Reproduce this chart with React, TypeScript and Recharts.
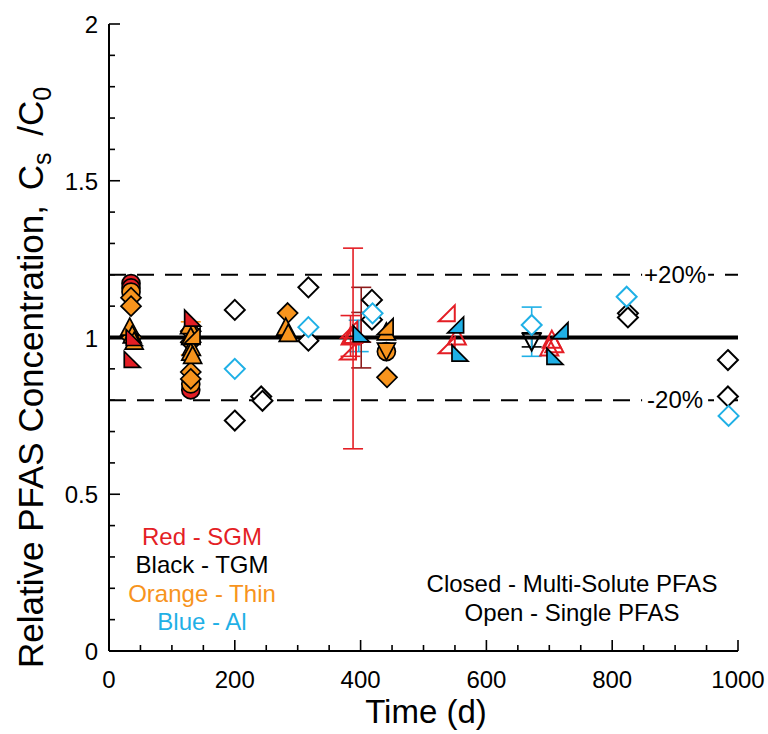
import React from 'react';
import { ErrorBar, ReferenceDot, ReferenceLine, Scatter, ScatterChart, XAxis, YAxis } from 'recharts';

// colours of the four materials
const RED = '#e41e25';
const BLACK = '#000000';
const ORANGE = '#f7941d';
const BLUE = '#1fb0e6';
const DARK_RED = '#8e1b1b';

const FONT = '"Liberation Sans", Arial, sans-serif';

// [time (d), Cs/C0] or [time, Cs/C0, minus, plus]
type Pt = number[];

// filled = multi-solute PFAS
const sgmMultiCircle: Pt[] = [[35, 1.172], [35, 1.158], [130, 0.833]];
const thinMultiCircle: Pt[] = [[35, 1.145], [130, 0.852], [441, 0.955]];
const thinMultiDiamond: Pt[] = [
  [35, 1.127], [35, 1.1], [36, 1.0], [130, 0.89], [130, 0.868], [130, 1.02], [130, 0.985], [284, 1.078], [442, 0.873],
];
const thinMultiTriUp: Pt[] = [
  [33, 1.03], [37, 1.005], [40, 0.985], [128, 1.035], [130, 1.0], [131, 0.965], [130, 0.95], [133, 0.94], [281, 1.03],
  [285, 1.01], [441, 1.015],
];
const thinMultiTriDown: Pt[] = [[441, 0.96]];
const thinMultiWedgeR: Pt[] = [[439, 1.035], [132, 1.005]];
const thinMultiErr: Pt[] = [[130, 0.995, 0.05, 0.055]];
const sgmMultiWedgeL: Pt[] = [[37, 0.93], [133, 1.062], [40, 1.0]];
const alMultiWedgeR: Pt[] = [[551, 1.04], [717, 1.022]];
const alMultiWedgeL: Pt[] = [[558, 0.95], [709, 0.94], [401, 1.012]];

// open = single PFAS
const tgmSingleDiamond: Pt[] = [
  [200, 1.088], [200, 0.735], [242, 0.812], [244, 0.798], [317, 1.16], [317, 0.99], [418, 1.12], [418, 1.057],
  [825, 1.077], [825, 1.064], [984, 0.928], [984, 0.812],
];
const tgmSingleTriDown: Pt[] = [[672, 0.99, 0.02, 0.025]];
const alSingleDiamond: Pt[] = [[200, 0.9], [317, 1.033], [419, 1.077], [672, 1.04, 0.1, 0.057], [823, 1.13], [985, 0.75]];
const alSingleErr: Pt[] = [[397, 1.0, 0.045, 0.055]];
const sgmSingleTriUp: Pt[] = [[388, 1.005, 0.36, 0.28], [384, 1.0, 0.06, 0.07], [553, 1.0], [704, 0.99], [708, 0.975], [700, 0.965]];
const sgmSingleWedgeR: Pt[] = [[382, 1.025], [380, 0.955], [537, 1.077], [537, 0.975]];
const sgmSpreadErr: Pt[] = [[401, 1.03, 0.127, 0.13], [401, 1.03, 0.045, 0.05]];

const xTicks = [0, 50, 100, 150, 200, 250, 300, 350, 400, 450, 500, 550, 600, 650, 700, 750, 800, 850, 900, 950, 1000];
const yTicks = [0, 0.1, 0.2, 0.3, 0.4, 0.5, 0.6, 0.7, 0.8, 0.9, 1, 1.1, 1.2, 1.3, 1.4, 1.5, 1.6, 1.7, 1.8, 1.9, 2];

const legendLines = [
  { text: 'Red - SGM', color: RED },
  { text: 'Black - TGM', color: BLACK },
  { text: 'Orange - Thin', color: ORANGE },
  { text: 'Blue - Al', color: BLUE },
];
const symbolNotes = ['Closed - Multi-Solute PFAS', 'Open - Single PFAS'];

type Kind = 'circle' | 'diamond' | 'triUp' | 'triDown' | 'wedgeL' | 'wedgeR' | 'none';

const series: { key: string; data: Pt[]; kind: Kind; color: string; open: boolean }[] = [
  { key: 'tgm-open-diamond', data: tgmSingleDiamond, kind: 'diamond', color: BLACK, open: true },
  { key: 'tgm-open-tridown', data: tgmSingleTriDown, kind: 'triDown', color: BLACK, open: true },
  { key: 'al-open-diamond', data: alSingleDiamond, kind: 'diamond', color: BLUE, open: true },
  { key: 'al-open-err', data: alSingleErr, kind: 'none', color: BLUE, open: true },
  { key: 'sgm-spread', data: sgmSpreadErr, kind: 'none', color: DARK_RED, open: true },
  { key: 'sgm-open-triup', data: sgmSingleTriUp, kind: 'triUp', color: RED, open: true },
  { key: 'sgm-open-wedge', data: sgmSingleWedgeR, kind: 'wedgeR', color: RED, open: true },
  { key: 'sgm-circle', data: sgmMultiCircle, kind: 'circle', color: RED, open: false },
  { key: 'thin-circle', data: thinMultiCircle, kind: 'circle', color: ORANGE, open: false },
  { key: 'thin-tridown', data: thinMultiTriDown, kind: 'triDown', color: ORANGE, open: false },
  { key: 'thin-diamond', data: thinMultiDiamond, kind: 'diamond', color: ORANGE, open: false },
  { key: 'thin-triup', data: thinMultiTriUp, kind: 'triUp', color: ORANGE, open: false },
  { key: 'thin-wedge', data: thinMultiWedgeR, kind: 'wedgeR', color: ORANGE, open: false },
  { key: 'thin-err', data: thinMultiErr, kind: 'none', color: ORANGE, open: false },
  { key: 'sgm-wedge', data: sgmMultiWedgeL, kind: 'wedgeL', color: RED, open: false },
  { key: 'al-wedge-r', data: alMultiWedgeR, kind: 'wedgeR', color: BLUE, open: false },
  { key: 'al-wedge-l', data: alMultiWedgeL, kind: 'wedgeL', color: BLUE, open: false },
];

const toRows = (pts: Pt[]) =>
  pts.map(([x, y, lo, hi]) => ({ x, y, err: lo === undefined ? undefined : [lo, hi] }));

function marker(kind: Kind, cx: number, cy: number, color: string, open: boolean) {
  const stroke = open ? color : '#000';
  const fill = open ? (kind === 'diamond' ? '#fff' : 'none') : color;
  const common = { stroke, fill, strokeWidth: open ? 2 : 1.7, strokeLinejoin: 'miter' as const };
  const poly = (pts: number[][]) => <polygon points={pts.map((p) => p.join(',')).join(' ')} {...common} />;
  switch (kind) {
    case 'circle':
      return <circle cx={cx} cy={cy} r={9} {...common} />;
    case 'diamond':
      return poly([[cx, cy - 10], [cx + 10, cy], [cx, cy + 10], [cx - 10, cy]]);
    case 'triUp':
      return poly([[cx, cy - 10], [cx + 9, cy + 7], [cx - 9, cy + 7]]);
    case 'triDown':
      return poly([[cx, cy + 10], [cx + 9, cy - 7], [cx - 9, cy - 7]]);
    case 'wedgeL':
      return poly([[cx - 8, cy - 8], [cx - 8, cy + 8], [cx + 8, cy + 8]]);
    case 'wedgeR':
      return poly([[cx + 8, cy - 8], [cx + 8, cy + 8], [cx - 8, cy + 8]]);
    default:
      return <g />;
  }
}

const isMajorX = (v: number) => v % 200 === 0;
const isMajorY = (v: number) => Math.abs(v * 2 - Math.round(v * 2)) < 1e-6;

function BottomTick({ x, y, payload }: any) {
  const major = isMajorX(payload.value);
  return (
    <g>
      <line x1={x} x2={x} y1={y} y2={y - (major ? 11 : 6)} stroke="#000" strokeWidth={1.6} />
      {major && (
        <text x={x} y={y + 37} textAnchor="middle" fontSize={24} fontFamily={FONT} fill="#000">
          {payload.value}
        </text>
      )}
    </g>
  );
}

function TopTick({ x, y, payload }: any) {
  const major = isMajorX(payload.value);
  return <line x1={x} x2={x} y1={y} y2={y + (major ? 11 : 6)} stroke="#000" strokeWidth={1.6} />;
}

function LeftTick({ x, y, payload }: any) {
  const major = isMajorY(payload.value);
  return (
    <g>
      <line x1={x} x2={x + (major ? 11 : 6)} y1={y} y2={y} stroke="#000" strokeWidth={1.6} />
      {major && (
        <text x={x - 11} y={y + 9} textAnchor="end" fontSize={24} fontFamily={FONT} fill="#000">
          {payload.value}
        </text>
      )}
    </g>
  );
}

function RightTick({ x, y, payload }: any) {
  const major = isMajorY(payload.value);
  return <line x1={x} x2={x - (major ? 11 : 6)} y1={y} y2={y} stroke="#000" strokeWidth={1.6} />;
}

function YTitle() {
  const cx = 43;
  const cy = 668;
  return (
    <text x={cx} y={cy} transform={`rotate(-90 ${cx} ${cy})`} textAnchor="start" fontSize={35} fontFamily={FONT} fill="#000">
      Relative PFAS Concentration,{' '}
      <tspan dx={5}>C</tspan>
      <tspan dy={8} fontSize={25}>s</tspan>
      <tspan dy={-8} dx={7}> /C</tspan>
      <tspan dy={8} fontSize={25}>0</tspan>
    </text>
  );
}

function XTitle() {
  return (
    <text x={426} y={723} textAnchor="middle" fontSize={33} fontFamily={FONT} fill="#000">
      Time (d)
    </text>
  );
}

const bandLabel = (text: string) => (props: any) => (
  <g>
    <rect x={props.cx - 33} y={props.cy - 14} width={66} height={28} fill="#fff" />
    <text x={props.cx} y={props.cy + 8} textAnchor="middle" fontSize={24} fontFamily={FONT} fill="#000">
      {text}
    </text>
  </g>
);

export default function App() {
  return (
    <div style={{ position: 'absolute', left: 0, top: 0, width: 768, height: 734, background: '#fff' }}>
      <ScatterChart width={768} height={734} margin={{ top: 24, right: 30, bottom: 43, left: 49 }}>
        <XAxis
          dataKey="x"
          type="number"
          domain={[0, 1000]}
          ticks={xTicks}
          interval={0}
          tickSize={0}
          tickMargin={0}
          tickLine={false}
          tick={<BottomTick />}
          axisLine={{ stroke: '#000', strokeWidth: 2 }}
          height={40}
          label={<XTitle />}
        />
        <XAxis
          xAxisId="top"
          orientation="top"
          type="number"
          domain={[0, 1000]}
          ticks={xTicks}
          interval={0}
          tickSize={0}
          tickMargin={0}
          tickLine={false}
          tick={<TopTick />}
          axisLine={{ stroke: '#000', strokeWidth: 2 }}
          height={0}
        />
        <YAxis
          dataKey="y"
          type="number"
          domain={[0, 2]}
          ticks={yTicks}
          interval={0}
          tickSize={0}
          tickMargin={0}
          tickLine={false}
          tick={<LeftTick />}
          axisLine={{ stroke: '#000', strokeWidth: 2 }}
          width={60}
          label={<YTitle />}
        />
        <YAxis
          yAxisId="right"
          orientation="right"
          type="number"
          domain={[0, 2]}
          ticks={yTicks}
          interval={0}
          tickSize={0}
          tickMargin={0}
          tickLine={false}
          tick={<RightTick />}
          axisLine={{ stroke: '#000', strokeWidth: 2 }}
          width={0}
        />
        <ReferenceLine y={1.2} stroke="#000" strokeWidth={2} strokeDasharray="17 11" />
        <ReferenceLine y={0.8} stroke="#000" strokeWidth={2} strokeDasharray="17 11" />
        <ReferenceDot x={900} y={1.2} r={1} shape={bandLabel('+20%')} />
        <ReferenceDot x={900} y={0.8} r={1} shape={bandLabel('-20%')} />
        {series.map((s) => (
          <Scatter
            key={s.key}
            data={toRows(s.data)}
            isAnimationActive={false}
            shape={(p: any) => marker(s.kind, p.cx, p.cy, s.color, s.open)}
          >
            {s.data.some((d) => d.length > 2) && (
              <ErrorBar dataKey="err" direction="y" width={10} stroke={s.color} strokeWidth={1.6} />
            )}
          </Scatter>
        ))}
        <ReferenceLine y={1} stroke="#000" strokeWidth={4} />
      </ScatterChart>
      <div
        style={{
          position: 'absolute',
          left: 102,
          top: 523,
          width: 200,
          textAlign: 'center',
          fontFamily: FONT,
          fontSize: 24,
          lineHeight: '28.3px',
        }}
      >
        {legendLines.map((l) => (
          <div key={l.text} style={{ color: l.color }}>
            {l.text}
          </div>
        ))}
      </div>
      <div
        style={{
          position: 'absolute',
          left: 422,
          top: 569,
          width: 300,
          textAlign: 'center',
          fontFamily: FONT,
          fontSize: 24,
          lineHeight: '29px',
          color: '#000',
        }}
      >
        {symbolNotes.map((t) => (
          <div key={t}>{t}</div>
        ))}
      </div>
    </div>
  );
}
